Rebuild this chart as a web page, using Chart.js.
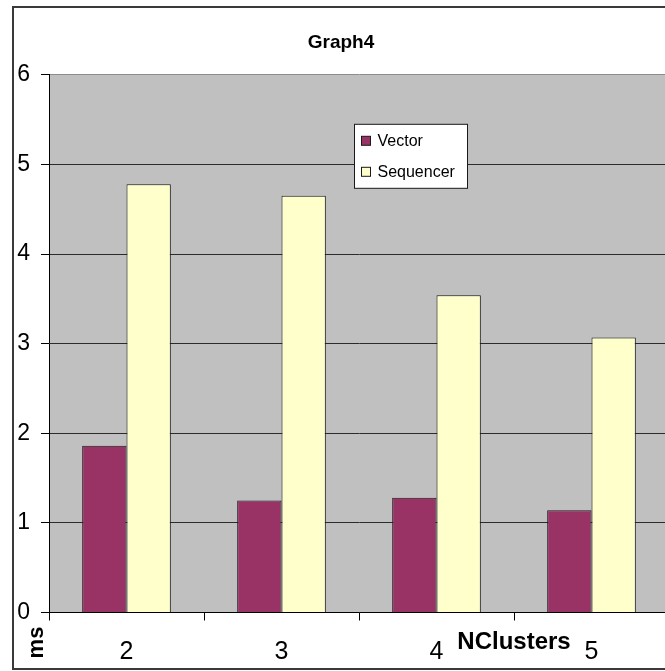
<!DOCTYPE html>
<html>
<head>
<meta charset="utf-8">
<title>Graph4</title>
<script src="https://cdn.jsdelivr.net/npm/chart.js@4.4.1/dist/chart.umd.min.js"></script>
<style>
  html, body { margin: 0; padding: 0; background: #fff; overflow: hidden; width: 665px; height: 671px; }
  #wrap { position: absolute; left: 0; top: 0; width: 665px; height: 671px; overflow: hidden; }
  #c { display: block; }
</style>
</head>
<body>
<div id="wrap"><canvas id="c" width="675" height="671"></canvas></div>
<script>
// Timings (ms) per number of clusters
const categories   = ['2', '3', '4', '5'];
const vectorMs     = [1.86, 1.25, 1.28, 1.14];
const sequencerMs  = [4.78, 4.65, 3.54, 3.07];
const yTickValues  = [0, 1, 2, 3, 4, 5, 6];
const seriesNames  = ['Vector', 'Sequencer'];
const chartTitle   = 'Graph4';
const yAxisTitle   = 'ms';
const xAxisTitle   = 'NClusters';

const FONT = "'Liberation Sans', Arial, Helvetica, sans-serif";
const PAD = { top: 7, left: 13, right: 6, bottom: 2 };

// White frame with a dark outline around the whole chart, grey plot area
const framePlugin = {
  id: 'frame',
  beforeDraw(chart) {
    const { ctx, width, height, chartArea } = chart;
    ctx.save();
    ctx.fillStyle = '#ffffff';
    ctx.fillRect(0, 0, width, height);
    ctx.strokeStyle = '#3a3a3a';
    ctx.lineWidth = 2;
    // the outline runs on past the right edge of the canvas
    ctx.strokeRect(PAD.left, PAD.top, width + 20, height - PAD.top - PAD.bottom);
    ctx.fillStyle = '#c0c0c0';
    ctx.fillRect(chartArea.left, chartArea.top, chartArea.right - chartArea.left, chartArea.bottom - chartArea.top);
    ctx.restore();
  }
};

// Boxed legend inside the plot area
const boxLegendPlugin = {
  id: 'boxLegend',
  afterDatasetsDraw(chart) {
    const { ctx, chartArea } = chart;
    const x = chartArea.left + 305.5, y = chartArea.top + 49.5;
    const w = 113, h = 64;
    ctx.save();
    ctx.fillStyle = '#ffffff';
    ctx.fillRect(x, y, w, h);
    ctx.strokeStyle = '#1a1a1a';
    ctx.lineWidth = 1;
    ctx.strokeRect(x, y, w, h);
    ctx.font = '16px ' + FONT;
    ctx.textBaseline = 'middle';
    ctx.textAlign = 'left';
    chart.data.datasets.forEach((ds, i) => {
      const cy = y + 17 + i * 31;
      ctx.fillStyle = ds.backgroundColor;
      ctx.fillRect(x + 7, cy - 5, 9, 9);
      ctx.strokeStyle = '#1a1a1a';
      ctx.strokeRect(x + 7, cy - 5, 9, 9);
      ctx.fillStyle = '#000';
      ctx.fillText(ds.label, x + 23, cy);
    });
    ctx.restore();
  }
};

// Axis titles set on the label row below the axis
const axisTitlePlugin = {
  id: 'axisTitles',
  afterDraw(chart) {
    const { ctx, chartArea } = chart;
    const xs = chart.scales.x;
    ctx.save();
    ctx.fillStyle = '#000';
    ctx.textAlign = 'center';
    ctx.textBaseline = 'middle';
    ctx.font = 'bold 24px ' + FONT;
    const nx = (xs.getPixelForTick(2) + xs.getPixelForTick(3)) / 2;
    ctx.fillText(xAxisTitle, nx, chartArea.bottom + 30);
    ctx.translate(chartArea.left - 12, chartArea.bottom + 30);
    ctx.rotate(-Math.PI / 2);
    ctx.font = 'bold 22px ' + FONT;
    ctx.fillText(yAxisTitle, 0, 0);
    ctx.restore();
  }
};

new Chart(document.getElementById('c'), {
  type: 'bar',
  data: {
    labels: categories,
    datasets: [
      {
        label: seriesNames[0],
        data: vectorMs,
        backgroundColor: '#993366',
        borderColor: '#1a1a1a',
        borderWidth: 1,
        categoryPercentage: 0.572,
        barPercentage: 1
      },
      {
        label: seriesNames[1],
        data: sequencerMs,
        backgroundColor: '#ffffcc',
        borderColor: '#1a1a1a',
        borderWidth: 1,
        categoryPercentage: 0.572,
        barPercentage: 1
      }
    ]
  },
  options: {
    responsive: false,
    devicePixelRatio: 1,
    animation: false,
    layout: { padding: PAD },
    plugins: {
      legend: { display: false },
      tooltip: { enabled: false },
      title: {
        display: true,
        text: chartTitle,
        color: '#000',
        font: { family: FONT, size: 19, weight: 'bold' },
        padding: { top: 24, bottom: 21 }
      }
    },
    scales: {
      x: {
        afterFit(s) { s.height = 56.5; },
        ticks: { color: '#000', font: { family: FONT, size: 25 }, padding: 17, maxRotation: 0 },
        grid: { drawOnChartArea: false, drawTicks: true, tickLength: 8, tickColor: '#000', offset: true },
        border: { color: '#000', width: 1 }
      },
      y: {
        min: 0,
        max: 6,
        afterBuildTicks(s) { s.ticks = yTickValues.map(v => ({ value: v })); },
        afterFit(s) { s.width = 36; },
        ticks: { color: '#000', font: { family: FONT, size: 23 }, crossAlign: 'near', padding: 11 },
        grid: {
          color: c => (c.tick && c.tick.value === 6) ? '#8c8c8c' : '#2b2b2b',
          tickColor: '#000',
          tickLength: 8,
          lineWidth: 1
        },
        border: { color: '#000', width: 1 }
      }
    }
  },
  plugins: [framePlugin, boxLegendPlugin, axisTitlePlugin]
});
</script>
</body>
</html>
